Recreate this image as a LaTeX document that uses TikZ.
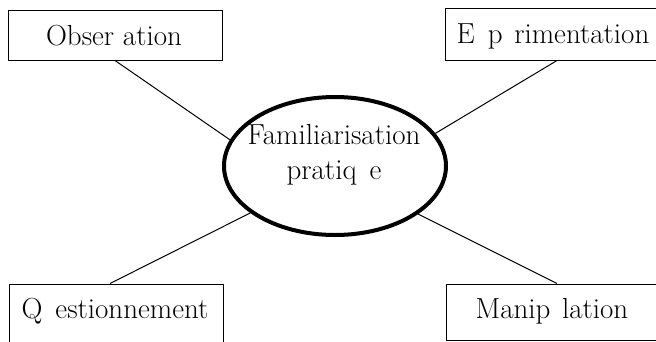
\documentclass[tikz,border=0pt]{standalone}
\usetikzlibrary{shapes.geometric}
\begin{document}
\begin{tikzpicture}[x=1pt,y=-1pt,
  box/.style={draw, line width=1pt, rectangle, inner sep=0pt},
  lbl/.style={font=\fontsize{29}{35}\selectfont, inner sep=0pt, align=center},
  link/.style={line width=1pt}]
\useasboundingbox (0,0) rectangle (656,341);
% boxes
\node[box, minimum width=214pt, minimum height=50pt] (obs) at (115.5,35) {};
\node[box, minimum width=230pt, minimum height=52pt] (exp) at (560,34) {};
\node[box, minimum width=214pt, minimum height=70pt] (que) at (116,319) {};
\node[box, minimum width=230pt, minimum height=56pt] (man) at (561,312) {};
% texts
\node[lbl] (tobs) at (114,36) {Obser\ ation};
\node[lbl] (texp) at (553,36) {E\hspace{0.45em}p\hspace{0.4em}rimentation};
\node[lbl] (tque) at (115,311) {Q\hspace{0.45em}estionnement};
\node[lbl] (tman) at (552,311) {Manip\hspace{0.4em}lation};
% ellipse
\node[draw, ellipse, line width=4pt, minimum width=222pt, minimum height=138pt, inner sep=0pt] (fam) at (335,166) {};
\node[lbl] (tfam) at (334,155) {Familiarisation\\pratiq\hspace{0.45em}e};
% connectors
\draw[link] ([xshift=-0.5pt]obs.south) -- (fam.166);
\draw[link] ([xshift=-3pt]exp.south) -- (fam.18);
\draw[link] ([xshift=-6pt]que.north) -- (fam.209);
\draw[link] ([xshift=-4pt]man.north) -- (fam.330);
\end{tikzpicture}
\end{document}
